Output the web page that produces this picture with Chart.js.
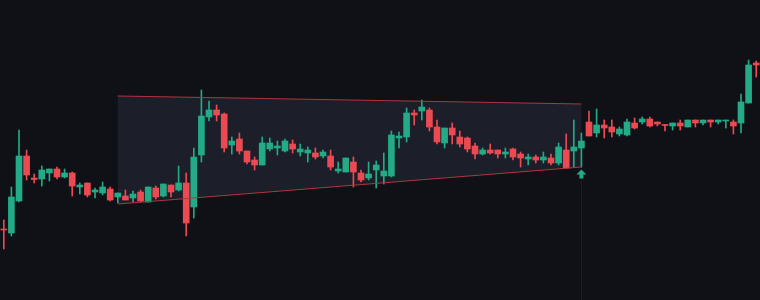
<!DOCTYPE html>
<html>
<head>
<meta charset="utf-8">
<title>Wedge breakout</title>
<script src="https://cdn.jsdelivr.net/npm/chart.js@4.4.1/dist/chart.umd.min.js"></script>
<style>
  html, body { margin: 0; padding: 0; background: #0f1117; }
  #wrap { width: 760px; height: 300px; position: relative; }
</style>
</head>
<body>
<div id="wrap"><canvas id="priceChart"></canvas></div>
<script>
// ---- candle data ----
const opens = [
  71, 67, 99, 144, 122, 121, 127, 131, 123, 127, 113, 117, 108, 107, 111, 103, 104, 102, 108, 98,
  112, 104, 115, 110, 117, 93, 145, 183, 190, 186, 155, 161, 149, 140, 135, 151, 152, 149, 156, 148,
  147, 147, 144, 144, 129, 128, 138, 127, 122, 130, 124, 124, 162, 163, 187, 189, 190, 173, 157, 172,
  163, 162, 154, 146, 150, 150, 146, 151, 146, 141, 143, 140, 142, 137, 150, 149, 152, 178, 167, 175,
  173, 166, 165, 177, 178, 181, 178, 175.5, 174, 177, 173, 180, 177, 180, 178, 179, 178, 177, 197, 237
];
const highs = [
  80, 113, 170, 150, 126, 134, 131, 133, 131, 128, 117, 117, 112, 118, 113, 107, 110, 109, 110, 113,
  114, 116, 115, 134, 127, 152, 210, 199, 195, 187, 163, 167, 149, 143, 163, 162, 159, 161, 160, 156,
  153, 152, 150, 150, 138, 142, 143, 130, 138, 139, 147, 169, 168, 192, 190, 200, 192, 180, 172, 177,
  169, 163, 157, 152, 156, 150, 152, 152, 148, 146, 145, 148, 146, 157, 166, 180, 167, 189, 191, 180,
  180, 173, 181, 182, 183, 183, 178, 175.5, 177, 180, 180, 180, 180, 180, 180, 180, 180, 206, 240, 239
];
const lows = [
  51, 64, 98, 120, 117, 114, 119, 121, 122, 104, 106, 103, 102, 105, 99, 97, 100, 98, 98, 98,
  101, 103, 103, 109, 64, 82, 138, 179, 179, 148, 146, 146, 136, 130, 135, 149, 145, 148, 147, 144,
  138, 141, 142, 130, 127, 128, 113, 118, 120, 112, 116, 123, 152, 158, 175, 180, 169, 156, 152, 156,
  153, 148, 141, 145, 146, 142, 142, 140, 133, 135, 137, 137, 135, 135, 132, 133, 133, 164, 163, 162,
  163, 164, 164, 171, 176, 173, 174, 169, 170, 170, 173, 173, 175, 173, 176, 172, 166, 167, 197, 223
];
const closes = [
  70, 103, 144, 125, 120.5, 130, 131, 123, 127, 114, 115, 105, 110, 113, 100, 107, 100, 106, 99, 113,
  103, 116, 108, 117, 77, 143, 184, 190, 185, 152, 159, 149, 138, 135, 157, 157, 154, 159, 151, 151,
  150, 143, 148, 133, 131, 142, 128, 120, 126, 135, 129, 165, 164, 187, 185, 193, 173, 158, 172, 165,
  156, 151, 146, 150, 147, 146, 148, 143, 142, 143, 140, 143, 137, 153, 132, 153, 159, 164, 175, 172,
  168, 171, 178, 172, 181, 174, 176, 174.5, 177, 174, 180, 177, 180, 178, 180, 180, 174, 198, 235, 235
];
const labels = opens.map((_, i) => String(i + 1));

// ---- wedge drawing: anchor candles and the two edge lines ----
const wedgeIdx = [15, 76];
const wedgeUpper = [204, 196];
const wedgeLower = [96, 133];

// ---- breakout marker ----
const arrowIdx = 76;
const arrowValue = 126;

const UP = "#22ab86";
const DOWN = "#ec4a52";
const candleColors = opens.map((o, i) => (closes[i] >= o ? UP : DOWN));

/* ---------------- wedge + arrow plugin ---------------- */
const wedgePlugin = {
  id: "wedge",
  beforeDatasetsDraw(chart) {
    const { ctx, scales, chartArea } = chart;
    const x = scales.x, y = scales.y;
    const x0 = x.getPixelForValue(wedgeIdx[0]);
    const x1 = x.getPixelForValue(wedgeIdx[1]);

    ctx.save();
    ctx.fillStyle = "rgba(120, 135, 175, 0.12)";
    ctx.beginPath();
    ctx.moveTo(x0, y.getPixelForValue(wedgeUpper[0]));
    ctx.lineTo(x1, y.getPixelForValue(wedgeUpper[1]));
    ctx.lineTo(x1, y.getPixelForValue(wedgeLower[1]));
    ctx.lineTo(x0, y.getPixelForValue(wedgeLower[0]));
    ctx.closePath();
    ctx.fill();

    // faint marker line under the breakout candle
    const ax = Math.round(x.getPixelForValue(arrowIdx)) + 0.5;
    ctx.strokeStyle = "rgba(255, 255, 255, 0.05)";
    ctx.lineWidth = 1;
    ctx.beginPath();
    ctx.moveTo(ax, y.getPixelForValue(arrowValue));
    ctx.lineTo(ax, chartArea.bottom);
    ctx.stroke();
    ctx.restore();
  },
  afterDatasetsDraw(chart) {
    const { ctx, scales } = chart;
    const x = scales.x, y = scales.y;
    const x0 = x.getPixelForValue(wedgeIdx[0]);
    const x1 = x.getPixelForValue(wedgeIdx[1]);

    ctx.save();
    ctx.strokeStyle = "#b3343d";
    ctx.lineWidth = 1;
    ctx.beginPath();
    ctx.moveTo(x0, y.getPixelForValue(wedgeUpper[0]));
    ctx.lineTo(x1, y.getPixelForValue(wedgeUpper[1]));
    ctx.moveTo(x0, y.getPixelForValue(wedgeLower[0]));
    ctx.lineTo(x1, y.getPixelForValue(wedgeLower[1]));
    ctx.stroke();

    // up arrow
    const ax = x.getPixelForValue(arrowIdx);
    const ay = y.getPixelForValue(arrowValue);
    ctx.fillStyle = UP;
    ctx.beginPath();
    ctx.moveTo(ax, ay - 4.5);
    ctx.lineTo(ax + 5, ay + 0.5);
    ctx.lineTo(ax + 2, ay + 0.5);
    ctx.lineTo(ax + 2, ay + 4.5);
    ctx.lineTo(ax - 2, ay + 4.5);
    ctx.lineTo(ax - 2, ay + 0.5);
    ctx.lineTo(ax - 5, ay + 0.5);
    ctx.closePath();
    ctx.fill();
    ctx.restore();
  },
};

/* ---------------- chart ---------------- */
const ctx = document.getElementById("priceChart").getContext("2d");
new Chart(ctx, {
  type: "bar",
  data: {
    labels,
    datasets: [
      {
        // bodies (drawn on top)
        data: opens.map((o, i) => [o, closes[i]]),
        backgroundColor: candleColors,
        borderWidth: 0,
        barThickness: 6,
        minBarLength: 1,
        grouped: false,
        order: 0,
      },
      {
        // wicks
        data: lows.map((l, i) => [l, highs[i]]),
        backgroundColor: candleColors,
        borderWidth: 0,
        barThickness: 1,
        grouped: false,
        order: 1,
      },
    ],
  },
  options: {
    responsive: true,
    maintainAspectRatio: false,
    animation: false,
    layout: { padding: 0 },
    plugins: {
      legend: { display: false },
      tooltip: { enabled: false },
    },
    scales: {
      x: { display: false, offset: true, grid: { display: false } },
      y: { display: false, min: 0, max: 300, grid: { display: false } },
    },
  },
  plugins: [wedgePlugin],
});
</script>
</body>
</html>
